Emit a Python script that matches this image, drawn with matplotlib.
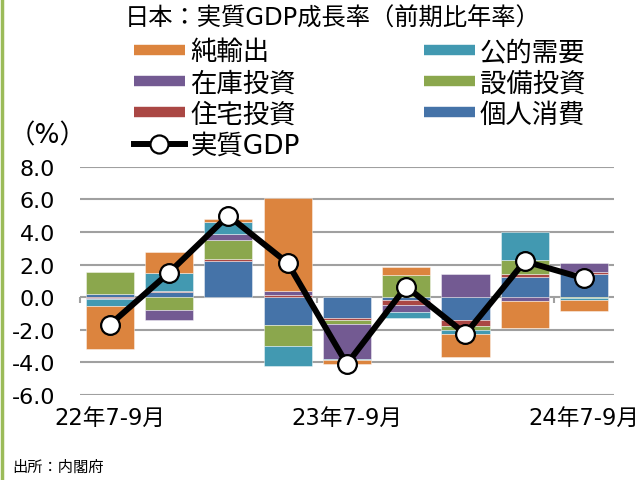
import numpy as np
import matplotlib
matplotlib.use("Agg")
import matplotlib.pyplot as plt
from matplotlib.lines import Line2D

plt.rcParams['font.family'] = ['DejaVu Sans', 'Noto Sans CJK JP']

quarters = ['22年7-9月', '22年10-12月', '23年1-3月', '23年4-6月', '23年7-9月',
            '23年10-12月', '24年1-3月', '24年4-6月', '24年7-9月']

# 寄与度 (%pt), stacking order bottom -> top
consumption = [0.20, 0.32, 2.20, -1.70, -1.30, -0.20, -1.40, 1.25, 1.40]    # 個人消費
housing     = [-0.05, 0.08, 0.12, 0.15, -0.12, -0.25, -0.36, 0.20, 0.12]    # 住宅投資
capex       = [1.35, -0.80, 1.20, -1.30, -0.20, 1.36, -0.27, 0.80, -0.05]   # 設備投資
inventory   = [-0.05, -0.60, 0.36, 0.20, -2.20, -0.47, 1.42, -0.22, 0.55]   # 在庫投資
public      = [-0.45, 1.10, 0.73, -1.25, -0.05, -0.36, -0.24, 1.75, -0.15]  # 公的需要
net_exports = [-2.60, 1.30, 0.20, 5.75, -0.20, 0.50, -1.38, -1.67, -0.67]   # 純輸出
gdp         = [-1.70, 1.50, 5.00, 2.10, -4.10, 0.65, -2.25, 2.20, 1.15]     # 実質GDP

names = ['個人消費', '住宅投資', '設備投資', '在庫投資', '公的需要', '純輸出']
series = [consumption, housing, capex, inventory, public, net_exports]
colors = ['#4573A8', '#AA4744', '#8BA74D', '#735A92', '#4299B1', '#DC843E']

fig = plt.figure(figsize=(6.4, 4.81), dpi=100)
ax = fig.add_axes([0.125, 0.1767, 0.834, 0.4746])

x = np.arange(len(quarters))
pos_bottom = np.zeros(len(x))
neg_bottom = np.zeros(len(x))
for vals, c in zip(series, colors):
    v = np.array(vals)
    bottom = np.where(v >= 0, pos_bottom, neg_bottom)
    ax.bar(x, v, 0.81, bottom=bottom, color=c, edgecolor=(1, 1, 1, 0.5),
           linewidth=0.6, zorder=2)
    pos_bottom += np.clip(v, 0, None)
    neg_bottom += np.clip(v, None, 0)

ax.plot(x, gdp, color='black', lw=4.3, marker='o', ms=13.5, mfc='white',
        mec='black', mew=1.6, zorder=4)

ax.set_xlim(-0.5, len(x) - 0.5)
ax.set_ylim(-6, 8)
ax.set_yticks(np.arange(-6, 9, 2))
ax.set_yticklabels(['%.1f' % t for t in np.arange(-6, 9, 2)])
ax.yaxis.grid(True, color='#A0A0A0', lw=1.5)
ax.set_axisbelow(True)
ax.set_xticks(x[::4])
ax.set_xticklabels(quarters[::4])
ax.tick_params(axis='y', length=0, pad=18, labelsize=16)
ax.tick_params(axis='x', length=0, pad=8, labelsize=16.3)
for s in ax.spines.values():
    s.set_visible(False)

# small ticks under the zero line
ax.vlines(x[::4] - 0.5, -0.35, 0, color='#A0A0A0', lw=1.5, clip_on=False, zorder=1)

# legend
handles = {names[i]: Line2D([0], [0], color=colors[i], lw=7.5, solid_capstyle='butt')
           for i in range(len(names))}
handles['実質GDP'] = Line2D([0], [0], color='black', lw=4.3, marker='o', ms=13,
                          mfc='white', mec='black', mew=1.6)
order = ['純輸出', '在庫投資', '住宅投資', '実質GDP', '公的需要', '設備投資', '個人消費']
fig.legend([handles[k] for k in order], order, ncol=2, loc='upper left',
           bbox_to_anchor=(134 / 640, 1 - 40 / 481), frameon=False, fontsize=19,
           borderpad=0, borderaxespad=0, handlelength=1.93, handletextpad=0.2,
           columnspacing=4.7, labelspacing=0.2, numpoints=1)

fig.text(333 / 640, 1 - 19 / 481, '日本：実質GDP成長率（前期比年率）', fontsize=17.5,
         ha='center', va='center')
fig.text(48 / 640, 1 - 136 / 481, '（%）', fontsize=19, ha='center', va='center')
fig.text(12 / 640, 1 - 467 / 481, '出所：内閣府', fontsize=11, ha='left', va='center')

fig.add_artist(Line2D([0.003, 0.003], [0, 1], color='#9BBB59', lw=2.5,
                      transform=fig.transFigure))

fig.savefig('out.png', dpi=100)
